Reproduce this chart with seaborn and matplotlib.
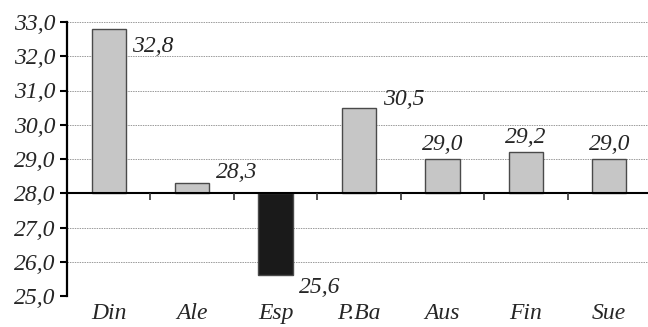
import numpy as np
import pandas as pd
import matplotlib
matplotlib.use("Agg")
import matplotlib.pyplot as plt
from matplotlib.lines import TICKDOWN
import seaborn as sns

categories = ["Din", "Ale", "Esp", "P.Ba", "Aus", "Fin", "Sue"]
values = [32.8, 28.3, 25.6, 30.5, 29.0, 29.2, 29.0]
baseline = 28.0
y_ticks = [25, 26, 27, 28, 29, 30, 31, 32, 33]

# label placement style: right of bar (below / above its end) or centered above
label_style = ["right_below", "right_above", "right_below", "right_above",
               "above", "above", "above"]

sns.set_theme(style="white")
plt.rcParams["font.family"] = ["Liberation Serif", "DejaVu Serif"]
FS = 17

df = pd.DataFrame({"cat": categories, "val": values})
df["diff"] = df["val"] - baseline

fig = plt.figure(figsize=(6.48, 3.27), dpi=100)
ax = fig.add_axes([67 / 648, 31 / 327, 584 / 648, 274 / 327])

colors = ["#1a1a1a" if v < baseline else "#c6c6c6" for v in values]
sns.barplot(data=df, x="cat", y="diff", hue="cat", palette=colors, legend=False,
            width=0.41, edgecolor="#4a4a4a", linewidth=1.0, ax=ax, zorder=3)

ax.set_ylim(y_ticks[0] - baseline, y_ticks[-1] - baseline)
ax.set_xlim(-0.5, len(categories) - 0.5)
ax.set_yticks([t - baseline for t in y_ticks])
ax.set_yticklabels([f"{t:.1f}".replace(".", ",") for t in y_ticks],
                   fontsize=FS, fontstyle="italic")
ax.set_xticks(range(len(categories)))
ax.set_xticklabels(categories, fontsize=FS, fontstyle="italic")
ax.tick_params(axis="x", length=0, pad=5)
ax.tick_params(axis="y", length=5, width=1.5, direction="out", color="black", pad=3, left=True)
ax.set_xlabel("")
ax.set_ylabel("")

for s in ["top", "right", "bottom"]:
    ax.spines[s].set_visible(False)
ax.spines["left"].set_color("black")
ax.spines["left"].set_linewidth(1.6)

for t in y_ticks:
    if t != baseline:
        ax.axhline(t - baseline, color="#9a9a9a", lw=0.7, ls=(0, (1.5, 1)), zorder=1)
ax.axhline(0, color="black", lw=1.5, zorder=4)
bounds = np.arange(len(categories) - 1) + 0.5
ax.plot(bounds, np.zeros_like(bounds), ls="none", marker=TICKDOWN,
        markersize=5, mew=1.2, color="#333333", zorder=4, clip_on=False)

for i, (v, st) in enumerate(zip(values, label_style)):
    txt = f"{v:.1f}".replace(".", ",")
    d = v - baseline
    if st == "above":
        ax.annotate(txt, (i, d), xytext=(0, 3), textcoords="offset points",
                    ha="center", va="bottom", fontsize=FS, fontstyle="italic")
    elif st == "right_below":
        ax.annotate(txt, (i + 0.25, d), xytext=(2, -1 if d < 0 else -5),
                    textcoords="offset points", ha="left", va="top",
                    fontsize=FS, fontstyle="italic")
    else:
        ax.annotate(txt, (i + 0.25, d), xytext=(2, -2 if d > 1 else 0),
                    textcoords="offset points", ha="left", va="bottom",
                    fontsize=FS, fontstyle="italic")

fig.savefig("out.png", dpi=100)
